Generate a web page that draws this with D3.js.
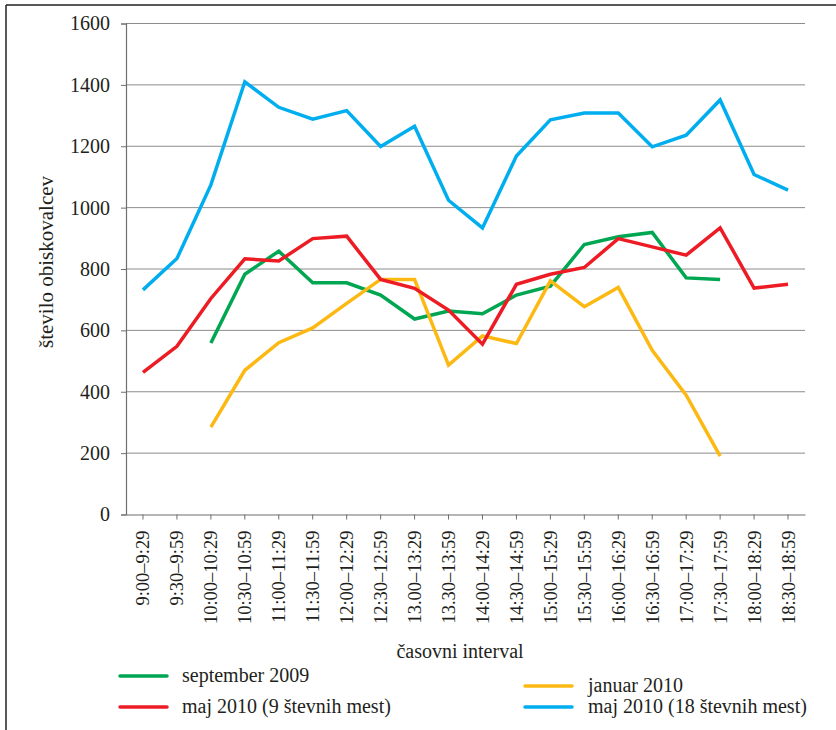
<!DOCTYPE html>
<html>
<head>
<meta charset="utf-8">
<script src="https://cdn.jsdelivr.net/npm/d3@7"></script>
<style>
  html, body { margin: 0; padding: 0; background: #fff; }
  svg { display: block; }
  text { font-family: "Liberation Serif", "DejaVu Serif", serif; fill: #231f20; }
</style>
</head>
<body>
<svg id="chart" width="836" height="730"></svg>
<script>
const categories = ["9:00–9:29","9:30–9:59","10:00–10:29","10:30–10:59","11:00–11:29","11:30–11:59",
  "12:00–12:29","12:30–12:59","13.00–13:29","13.30–13:59","14:00–14:29","14:30–14:59","15:00–15:29",
  "15:30–15:59","16:00–16:29","16:30–16:59","17:00–17:29","17:30–17:59","18:00–18:29","18:30–18:59"];

const sep2009 = [null,null,559,783,858,755,755,715,637,663,654,715,744,880,905,919,771,766,null,null];
const jan2010 = [null,null,285,470,560,608,688,766,766,487,582,557,761,677,740,535,389,190,null,null];
const maj2010_9 = [463,548,704,833,826,899,907,766,737,666,555,750,783,805,899,872,845,934,738,750];
const maj2010_18 = [732,834,1074,1410,1327,1288,1316,1199,1265,1024,934,1168,1286,1308,1308,1198,1236,1351,1108,1057];

const yTicks = [0,200,400,600,800,1000,1200,1400,1600];

const seriesNames = ["september 2009","januar 2010","maj 2010 (9 števnih mest)","maj 2010 (18 števnih mest)"];
const seriesColors = ["#00a651","#fdb913","#ed1c24","#00aeef"];
const seriesData = [sep2009, jan2010, maj2010_9, maj2010_18];

(function () {
const svg = d3.select("#chart");
const FS = "20px";
const FF = '"Liberation Serif", "DejaVu Serif", serif';

// frame
svg.append("line").attr("x1",6).attr("x2",6).attr("y1",5).attr("y2",730).attr("stroke","#231f20").attr("stroke-width",1.5);
svg.append("line").attr("x1",6).attr("x2",836).attr("y1",5).attr("y2",5).attr("stroke","#231f20").attr("stroke-width",1.5);

const pL = 126, pR = 805, pT = 23.5, pB = 514.5;
const x = d3.scaleBand().domain(categories).range([pL, pR]);
const y = d3.scaleLinear().domain([0,1600]).range([pB, pT]);
const cx = d => x(d) + x.bandwidth()/2;

// gridlines
svg.append("g").selectAll("line").data(yTicks.filter(d => d>0)).join("line")
  .attr("x1", pL).attr("x2", pR)
  .attr("y1", d => y(d)).attr("y2", d => y(d))
  .attr("stroke", "#8c8c8c").attr("stroke-width", 1);

// y axis
const yAxis = svg.append("g").attr("transform", `translate(${pL},0)`)
  .call(d3.axisLeft(y).tickValues(yTicks).tickSize(5).tickPadding(11).tickFormat(d3.format("d")));
yAxis.attr("font-family", null).attr("font-size", null);
yAxis.select(".domain").attr("stroke", "#6d6e71").attr("stroke-width", 1.2);
yAxis.selectAll(".tick line").attr("stroke", "#6d6e71");
yAxis.selectAll(".tick text").style("font-size", FS).style("font-family", FF).attr("fill", "#231f20");

// x axis
const xAxis = svg.append("g").attr("transform", `translate(0,${pB})`)
  .call(d3.axisBottom(x).tickSize(5).tickSizeOuter(0).tickPadding(0));
xAxis.attr("font-family", null).attr("font-size", null);
xAxis.select(".domain").attr("stroke", "#6d6e71").attr("stroke-width", 1.2);
xAxis.selectAll(".tick line").attr("stroke", "#6d6e71");
xAxis.selectAll(".tick text")
  .style("font-size", "18.5px").style("font-family", FF).attr("fill", "#231f20")
  .attr("text-anchor", "end")
  .attr("transform", "rotate(-90)")
  .attr("x", -16).attr("y", 0).attr("dy", "0.35em");

// lines
const line = d3.line()
  .defined(d => d.v !== null)
  .x(d => cx(d.c))
  .y(d => y(d.v));

seriesData.forEach((arr, i) => {
  const pts = categories.map((c, j) => ({c, v: arr[j]}));
  svg.append("path").datum(pts)
    .attr("fill", "none")
    .attr("stroke", seriesColors[i])
    .attr("stroke-width", 3.5)
    .attr("stroke-linejoin", "miter")
    .attr("d", line);
});

// axis titles
svg.append("text").attr("x", 460).attr("y", 658).attr("text-anchor", "middle")
  .style("font-size", FS).style("font-family", FF).text("časovni interval");
svg.append("text").attr("transform", "translate(53,262) rotate(-90)").attr("text-anchor", "middle")
  .style("font-size", "21px").style("font-family", FF).text("število obiskovalcev");

// legend
const legendPos = [
  {lx: 120, ly: 676, tx: 182},
  {lx: 525, ly: 686, tx: 588},
  {lx: 120, ly: 707, tx: 182},
  {lx: 525, ly: 707, tx: 588}
];
const lg = svg.append("g");
seriesNames.forEach((name, i) => {
  const p = legendPos[i];
  lg.append("line").attr("x1", p.lx).attr("x2", p.lx + 47).attr("y1", p.ly).attr("y2", p.ly)
    .attr("stroke", seriesColors[i]).attr("stroke-width", 3.5).attr("stroke-linecap", "round");
  lg.append("text").attr("x", p.tx).attr("y", p.ly + 6).style("font-size", FS).style("font-family", FF).text(name);
});
})();
</script>
</body>
</html>
